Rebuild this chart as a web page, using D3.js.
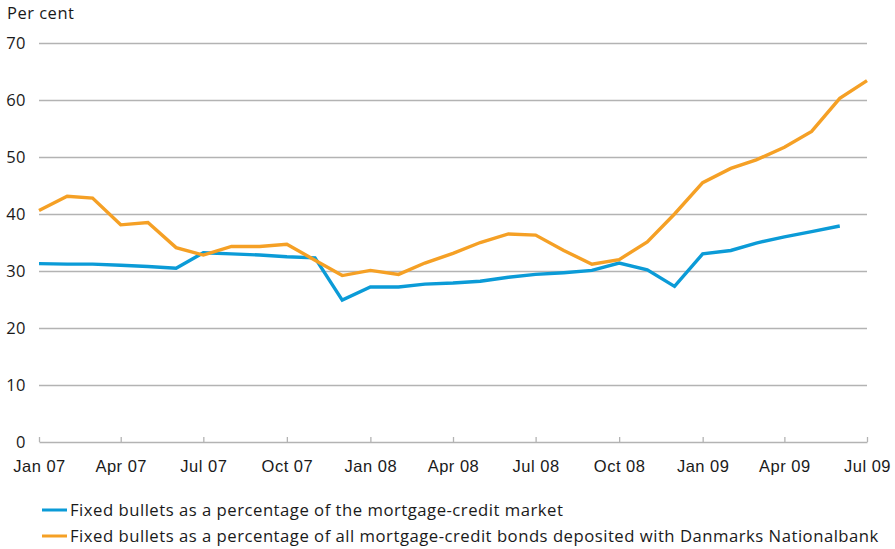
<!DOCTYPE html>
<html>
<head>
<meta charset="utf-8">
<script src="https://cdn.jsdelivr.net/npm/d3@7"></script>
<style>
  body { margin: 0; background: #fff; }
  svg { font-family: "Open Sans", "Noto Sans", sans-serif; letter-spacing: 0.5px; }
  .grid line { stroke: #b3b3b3; stroke-width: 1.3; }
  .grid .domain { display: none; }
  .xAxisInfo .domain, .xAxisInfo line { stroke: #b3b3b3; stroke-width: 1.3; }
  .xAxisInfo text, .yAxisInfo text { fill: #1a1a1a; font-size: 16.5px; }
  .legend text { fill: #1a1a1a; font-size: 16.7px; }
</style>
</head>
<body>
<div id="wrapper"></div>
<script>
// chart dimensions
const dimensions = {
  width: 895,
  height: 549,
  margin: { top: 43, right: 28, bottom: 107, left: 39 },
}
dimensions.boundedWidth = dimensions.width - dimensions.margin.left - dimensions.margin.right
dimensions.boundedHeight = dimensions.height - dimensions.margin.top - dimensions.margin.bottom

// months from Jan 07 to Jul 09
const months = [
  "2007-01", "2007-02", "2007-03", "2007-04", "2007-05", "2007-06",
  "2007-07", "2007-08", "2007-09", "2007-10", "2007-11", "2007-12",
  "2008-01", "2008-02", "2008-03", "2008-04", "2008-05", "2008-06",
  "2008-07", "2008-08", "2008-09", "2008-10", "2008-11", "2008-12",
  "2009-01", "2009-02", "2009-03", "2009-04", "2009-05", "2009-06",
  "2009-07"
]

// fixed bullets, share of mortgage-credit market (Jan 07 - Jun 09)
const marketShare = [
  31.3, 31.2, 31.2, 31.0, 30.8, 30.5, 33.2, 33.0, 32.8, 32.5, 32.3, 24.9,
  27.2, 27.2, 27.7, 27.9, 28.2, 28.9, 29.4, 29.7, 30.1, 31.4, 30.2, 27.3,
  33.0, 33.6, 34.9, 36.0, 36.9, 37.9
]

// fixed bullets, share of bonds deposited with Danmarks Nationalbank (Jan 07 - Jul 09)
const depositedShare = [
  40.6, 43.1, 42.8, 38.1, 38.5, 34.1, 32.8, 34.3, 34.3, 34.7, 31.9, 29.2,
  30.1, 29.4, 31.4, 33.1, 35.0, 36.5, 36.3, 33.6, 31.2, 32.0, 35.1, 40.0,
  45.5, 48.0, 49.5, 51.7, 54.5, 60.3, 63.4
]

const yTicks = [0, 10, 20, 30, 40, 50, 60, 70]
const xTickLabels = ["Jan 07", "Apr 07", "Jul 07", "Oct 07", "Jan 08", "Apr 08",
  "Jul 08", "Oct 08", "Jan 09", "Apr 09", "Jul 09"]

const legendLabels = [
  "Fixed bullets as a percentage of the mortgage-credit market",
  "Fixed bullets as a percentage of all mortgage-credit bonds deposited with Danmarks Nationalbank"
]
const colors = ["#0b9bd7", "#f5a025"]

function drawChart() {
  const parse = d3.timeParse("%Y-%m")
  const dates = months.map(parse)

  const svg = d3.select("#wrapper")
    .append("svg")
      .attr("width", dimensions.width)
      .attr("height", dimensions.height)

  const bounds = svg.append("g")
    .attr("transform", "translate(" + dimensions.margin.left + "," + dimensions.margin.top + ")")

  const x = d3.scaleTime()
    .domain([dates[0], dates[dates.length - 1]])
    .range([0, dimensions.boundedWidth])

  const y = d3.scaleLinear()
    .domain([0, 70])
    .range([dimensions.boundedHeight, 0])

  // horizontal gridlines
  bounds.append("g")
    .attr("class", "grid")
    .call(d3.axisLeft(y)
      .tickValues(yTicks.filter(d => d > 0))
      .tickSize(-dimensions.boundedWidth)
      .tickFormat(""))

  // y labels
  bounds.append("g")
    .attr("class", "yAxisInfo")
    .selectAll("text")
    .data(yTicks)
    .join("text")
      .attr("x", -13)
      .attr("y", d => y(d))
      .attr("dy", "0.36em")
      .attr("text-anchor", "end")
      .text(d => d)

  // x axis with ticks pointing up
  const tickDates = dates.filter((d, i) => i % 3 === 0)
  const xAxis = bounds.append("g")
    .attr("class", "xAxisInfo")
    .attr("transform", "translate(0," + dimensions.boundedHeight + ")")
    .call(d3.axisBottom(x)
      .tickValues(tickDates)
      .tickSize(-5)
      .tickSizeOuter(0)
      .tickPadding(18)
      .tickFormat((d, i) => xTickLabels[i]))
  xAxis.selectAll("text").attr("dy", "0.71em")

  // lines
  const line = d3.line()
    .x((d, i) => x(dates[i]))
    .y(d => y(d))

  ;[marketShare, depositedShare].forEach((series, k) => {
    bounds.append("path")
      .datum(series)
      .attr("fill", "none")
      .attr("stroke", colors[k])
      .attr("stroke-width", 3.4)
      .attr("stroke-linejoin", "miter")
      .attr("d", line)
  })

  // legend
  const legend = svg.append("g").attr("class", "legend")
  legendLabels.forEach((label, k) => {
    const ly = 510 + k * 26
    legend.append("line")
      .attr("x1", 42).attr("x2", 67)
      .attr("y1", ly).attr("y2", ly)
      .attr("stroke", colors[k])
      .attr("stroke-width", 3)
    legend.append("text")
      .attr("x", 70)
      .attr("y", ly)
      .attr("dy", "0.35em")
      .text(label)
  })

  // y axis title
  svg.append("text")
    .attr("x", 7)
    .attr("y", 19)
    .attr("fill", "#1a1a1a")
    .style("font-size", "16.5px")
    .text("Per cent")
}

drawChart()
</script>
</body>
</html>
